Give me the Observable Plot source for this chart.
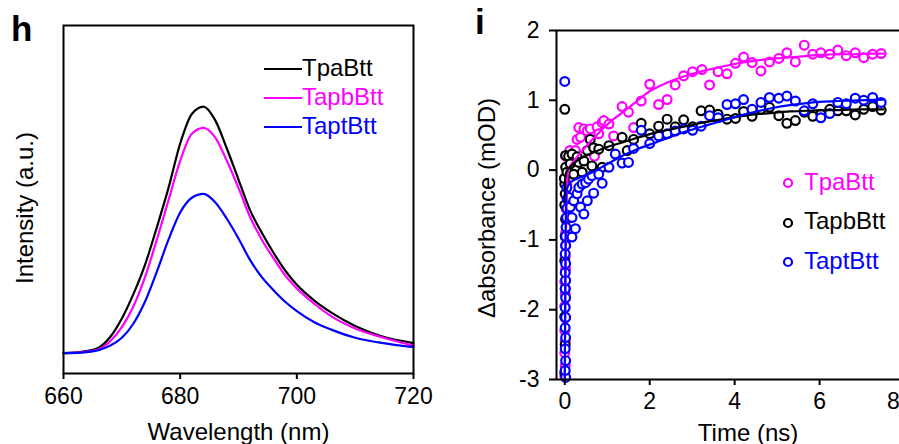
<!DOCTYPE html>
<html><head><meta charset="utf-8">
<script src="https://cdn.jsdelivr.net/npm/d3@7"></script>
<script src="https://cdn.jsdelivr.net/npm/@observablehq/plot@0.6"></script>
<style>
html,body{margin:0;padding:0;background:#fff;overflow:hidden;}
#wrap{position:relative;width:899px;height:444px;overflow:hidden;font-family:"Liberation Sans",Arial,sans-serif;background:#fff;}
.panel{position:absolute;top:0;}
.lab{position:absolute;font-weight:bold;font-size:35px;line-height:1;}
.legrow{position:absolute;display:flex;align-items:center;height:30px;font-size:24px;line-height:1;white-space:nowrap;}
</style></head>
<body><div id="wrap"></div>
<script>
// ---------- Panel h: photoluminescence ----------
const wavelength = [660,663,666,668,670,672,674,676,678,680,682,684,686,688,690,692,694,696,698,700,703,706,710,714,720];
const plTpaBtt  = [0.000,0.005,0.022,0.065,0.140,0.240,0.360,0.510,0.670,0.850,0.970,1.000,0.945,0.830,0.704,0.579,0.488,0.407,0.335,0.277,0.213,0.163,0.110,0.072,0.040];
const plTapbBtt = [0.000,0.003,0.015,0.048,0.105,0.190,0.310,0.460,0.620,0.780,0.890,0.914,0.875,0.780,0.670,0.551,0.460,0.385,0.315,0.262,0.200,0.148,0.100,0.068,0.030];
const plTaptBtt = [0.000,0.002,0.012,0.030,0.062,0.120,0.210,0.330,0.460,0.570,0.630,0.646,0.612,0.545,0.465,0.377,0.308,0.255,0.208,0.170,0.125,0.094,0.062,0.043,0.024];
const hSeries = ["TpaBtt","TapbBtt","TaptBtt"];
const hColors = ["#000000","#ff00ff","#0000ff"];
const hValues = [plTpaBtt, plTapbBtt, plTaptBtt];
const hTicks = [660,680,700,720];

// ---------- Panel i: transient absorption ----------
const iSeries = ["TpaBtt","TapbBtt","TaptBtt"];
const iColors = ["#ff00ff","#000000","#0000ff"];
const iTicksX = [0,2,4,6];
const iTickXLast = [8];
const iTicksY = [-3,-2,-1,0,1,2];
// measured points [time ns, ΔA mOD]
const taTpaBtt = [[0.0,-2.95],[0.01,-2.8],[0.0,-2.62],[0.01,-2.45],[0.0,-2.3],[0.01,-2.12],[0.0,-1.95],[0.01,-1.78],[0.0,-1.6],[0.02,-1.42],[0.01,-1.25],[0.02,-1.08],[0.02,-0.9],[0.03,-0.72],[0.03,-0.55],[0.04,-0.38],[0.05,-0.2],[0.06,0.05],[0.02,0.2],[0.12,0.28],[0.25,0.28],[0.29,0.44],[0.33,0.61],[0.37,0.47],[0.45,0.59],[0.53,0.56],[0.6,0.59],[0.7,0.2],[0.76,0.62],[0.8,0.52],[0.88,0.68],[0.92,0.71],[1.04,0.66],[1.15,0.49],[1.35,0.91],[1.5,0.83],[1.62,0.61],[1.8,0.99],[2.0,1.23],[2.21,0.94],[2.41,1.01],[2.6,1.22],[2.8,1.35],[3.01,1.41],[3.23,1.44],[3.41,1.22],[3.61,1.41],[3.82,1.38],[4.02,1.53],[4.21,1.62],[4.41,1.54],[4.62,1.42],[4.82,1.55],[5.04,1.6],[5.23,1.68],[5.43,1.55],[5.64,1.79],[5.84,1.66],[6.03,1.68],[6.24,1.66],[6.43,1.72],[6.63,1.64],[6.84,1.68],[7.04,1.61],[7.25,1.66],[7.45,1.67]];
const taTapbBtt = [[0.0,-2.9],[0.01,-2.5],[0.0,-2.1],[0.01,-1.7],[0.0,-1.3],[0.01,-0.95],[0.02,-0.7],[0.0,-0.5],[0.01,-0.34],[0.0,-0.2],[-0.01,-0.12],[0.0,0.87],[0.02,0.21],[0.02,0.04],[0.05,-0.03],[0.09,0.2],[0.13,0.09],[0.17,0.23],[0.21,-0.06],[0.29,0.19],[0.33,0.11],[0.41,-0.03],[0.45,0.13],[0.53,0.28],[0.6,0.44],[0.64,0.06],[0.68,0.32],[0.8,0.3],[0.88,0.04],[1.04,0.35],[1.35,0.47],[1.47,0.28],[1.62,0.44],[1.8,0.67],[2.0,0.52],[2.21,0.63],[2.41,0.73],[2.6,0.62],[2.8,0.72],[3.01,0.62],[3.21,0.85],[3.41,0.86],[3.61,0.8],[3.82,0.73],[4.02,0.74],[4.21,0.84],[4.41,0.77],[4.62,0.87],[4.82,0.9],[5.04,0.78],[5.23,0.67],[5.43,0.71],[5.64,0.83],[5.84,0.77],[6.03,0.8],[6.24,0.87],[6.43,0.85],[6.63,0.85],[6.84,0.79],[7.04,0.87],[7.25,0.91],[7.45,0.86]];
const taTaptBtt = [[0.0,1.27],[0.02,-2.97],[0.01,-2.87],[0.02,-2.73],[0.01,-2.56],[0.02,-2.4],[0.01,-2.26],[0.02,-2.11],[0.01,-1.97],[0.02,-1.83],[0.01,-1.7],[0.02,-1.58],[0.01,-1.47],[0.02,-1.34],[0.01,-1.2],[0.02,-1.08],[0.02,-0.95],[0.03,-0.82],[0.04,-0.68],[0.05,-0.55],[0.06,-0.42],[0.05,-0.25],[0.09,-0.39],[0.13,-0.53],[0.17,-0.68],[0.17,-0.96],[0.25,-0.84],[0.21,-0.44],[0.29,-0.34],[0.33,-0.25],[0.37,-0.53],[0.45,-0.63],[0.41,-0.2],[0.49,-0.18],[0.53,-0.44],[0.56,-0.13],[0.64,-0.08],[0.68,-0.33],[0.8,-0.06],[0.88,-0.19],[1.04,0.04],[1.19,0.23],[1.35,0.1],[1.5,0.11],[1.62,0.31],[1.8,0.57],[2.0,0.38],[2.21,0.49],[2.41,0.52],[2.6,0.56],[2.8,0.59],[3.01,0.57],[3.21,0.63],[3.41,0.78],[3.61,0.75],[3.82,0.94],[4.02,0.95],[4.21,1.01],[4.41,0.87],[4.62,0.97],[4.82,1.04],[5.04,1.03],[5.23,1.06],[5.43,0.99],[5.64,0.85],[5.84,0.95],[6.03,0.75],[6.24,0.81],[6.43,0.97],[6.63,0.95],[6.84,1.03],[7.04,1.0],[7.25,1.04],[7.45,0.97]];
// fitted curves [time ns, ΔA mOD]
const fitTpaBtt = [[0,-3],[0.015,-1.6],[0.03,-0.8],[0.05,-0.3],[0.08,0.0],[0.15,0.08],[0.28,0.18],[0.43,0.29],[0.59,0.4],[0.78,0.52],[0.98,0.64],[1.17,0.74],[1.37,0.83],[1.6,0.94],[2.0,1.13],[2.4,1.25],[2.8,1.34],[3.2,1.41],[3.6,1.47],[4.0,1.52],[4.4,1.56],[4.8,1.59],[5.2,1.61],[5.6,1.63],[6.0,1.65],[6.4,1.66],[6.8,1.66],[7.2,1.67],[7.5,1.67]];
const fitTapbBtt = [[0,-0.45],[0.005,-0.25],[0.01,-0.1],[0.04,-0.02],[0.12,0.04],[0.3,0.14],[0.59,0.23],[0.95,0.32],[1.37,0.4],[1.75,0.47],[2.16,0.54],[2.55,0.59],[2.94,0.64],[3.33,0.69],[3.73,0.73],[4.12,0.77],[4.51,0.8],[4.9,0.82],[5.3,0.84],[5.7,0.85],[6.1,0.86],[6.5,0.86],[6.9,0.87],[7.5,0.87]];
const fitTaptBtt = [[0,-3.0],[0.01,-1.8],[0.02,-0.9],[0.04,-0.3],[0.1,-0.2],[0.3,-0.12],[0.59,-0.05],[0.98,0.08],[1.37,0.21],[1.75,0.31],[2.16,0.4],[2.55,0.49],[2.94,0.57],[3.33,0.64],[3.73,0.71],[4.12,0.78],[4.51,0.84],[4.9,0.89],[5.3,0.93],[5.7,0.96],[6.1,0.98],[6.5,0.99],[6.9,1.0],[7.5,1.01]];
const iPoints = [taTpaBtt, taTapbBtt, taTaptBtt];
const iFits = [fitTpaBtt, fitTapbBtt, fitTaptBtt];

const FONT = '"Liberation Sans", Arial, sans-serif';
const wrap = document.getElementById("wrap");

// ----- build panel h -----
const hData = hSeries.flatMap((s, k) => wavelength.map((w, j) => ({series: s, w, v: hValues[k][j]})));
const plotH = Plot.plot({
  width: 450, height: 444,
  marginTop: 25, marginLeft: 63, marginRight: 37, marginBottom: 71,
  style: {fontFamily: FONT, background: "transparent", overflow: "visible", color: "#000"},
  x: {domain: [660, 720]},
  y: {domain: [-0.083, 1.329]},
  color: {domain: hSeries, range: hColors},
  marks: [
    Plot.line(hData, {x: "w", y: "v", z: "series", stroke: "series", strokeWidth: 2.2, curve: "monotone-x"}),
    Plot.frame({stroke: "#000", strokeWidth: 2}),
    Plot.axisX({ticks: hTicks, tickSize: 6, tickPadding: 8, fontSize: 23, label: null, strokeWidth: 2}),
    Plot.axisY({ticks: [], label: null}),
    Plot.text(["Wavelength (nm)"], {frameAnchor: "bottom", dy: 66, lineAnchor: "bottom", textAnchor: "middle", fontSize: 24, fill: "#000"}),
    Plot.text(["Intensity (a.u.)"], {frameAnchor: "left", rotate: -90, dx: -38, dy: 8.5, lineAnchor: "middle", textAnchor: "middle", fontSize: 24, fill: "#000"})
  ]
});
plotH.classList.add("panel");
plotH.style.left = "0px";
wrap.appendChild(plotH);

// ----- build panel i -----
const iDots = iSeries.flatMap((s, k) => iPoints[k].map(([t, v]) => ({series: s, t, v})));
const iLines = iSeries.flatMap((s, k) => iFits[k].map(([t, v]) => ({series: s, t, v})));
const plotI = Plot.plot({
  width: 470, height: 444,
  marginTop: 30, marginLeft: 106, marginRight: 16, marginBottom: 65,
  style: {fontFamily: FONT, background: "transparent", overflow: "visible", color: "#000"},
  x: {domain: [-0.195, 8]},
  y: {domain: [-3, 2]},
  color: {domain: iSeries, range: iColors},
  marks: [
    Plot.dot(iDots, {x: "t", y: "v", stroke: "series", fill: "white", r: 4.4, strokeWidth: 2.2}),
    Plot.line(iLines, {x: "t", y: "v", z: "series", stroke: "series", strokeWidth: 2.2, curve: "monotone-x"}),
    Plot.frame({stroke: "#000", strokeWidth: 2}),
    Plot.axisX({ticks: iTicksX, tickSize: 6, tickPadding: 7, fontSize: 23, label: null, tickFormat: d => String(d), strokeWidth: 2}),
    Plot.axisX({ticks: iTickXLast, tickSize: 0, tickPadding: 13, dx: -11, fontSize: 23, label: null, tickFormat: d => String(d)}),
    Plot.axisY({ticks: iTicksY, tickSize: 7, tickPadding: 10, fontSize: 23, label: null, tickFormat: d => String(d), strokeWidth: 2}),
    Plot.text(["Time (ns)"], {frameAnchor: "bottom", dx: 17.5, dy: 61, lineAnchor: "bottom", textAnchor: "middle", fontSize: 24, fill: "#000"}),
    Plot.text(["\u0394absorbance (mOD)"], {frameAnchor: "left", rotate: -90, dx: -69, dy: 3, lineAnchor: "middle", textAnchor: "middle", fontSize: 24, fill: "#000"})
  ]
});
plotI.classList.add("panel");
plotI.style.left = "450px";
wrap.appendChild(plotI);

// ----- panel letters -----
[["h", 11, 18], ["i", 475, 11]].forEach(([t, l, tp]) => {
  const d = document.createElement("div");
  d.className = "lab"; d.textContent = t;
  d.style.left = l + "px"; d.style.top = (tp - 7) + "px";
  wrap.appendChild(d);
});

// ----- legends -----
function legendRow(label, color, left, centerY, swatch) {
  const row = document.createElement("div");
  row.className = "legrow";
  row.style.left = left + "px";
  row.style.top = (centerY - 15) + "px";
  row.style.color = color;
  const ns = "http://www.w3.org/2000/svg";
  const svg = document.createElementNS(ns, "svg");
  if (swatch === "line") {
    svg.setAttribute("width", 38); svg.setAttribute("height", 30);
    const ln = document.createElementNS(ns, "line");
    ln.setAttribute("x1", 0); ln.setAttribute("x2", 38); ln.setAttribute("y1", 15); ln.setAttribute("y2", 15);
    ln.setAttribute("stroke", color); ln.setAttribute("stroke-width", 2.2);
    svg.appendChild(ln);
  } else {
    svg.setAttribute("width", 22); svg.setAttribute("height", 30);
    const c = document.createElementNS(ns, "circle");
    c.setAttribute("cx", 6); c.setAttribute("cy", 15); c.setAttribute("r", 4);
    c.setAttribute("stroke", color); c.setAttribute("stroke-width", 2.2); c.setAttribute("fill", "white");
    svg.appendChild(c);
  }
  row.appendChild(svg);
  const sp = document.createElement("span");
  sp.textContent = label;
  sp.style.marginTop = "-3px";
  row.appendChild(sp);
  wrap.appendChild(row);
}
hSeries.forEach((s, k) => legendRow(s, hColors[k], 264, 69 + k * 29, "line"));
iSeries.forEach((s, k) => legendRow(s, iColors[k], 782, 183 + k * 39.7, "circle"));
</script>
</body></html>
